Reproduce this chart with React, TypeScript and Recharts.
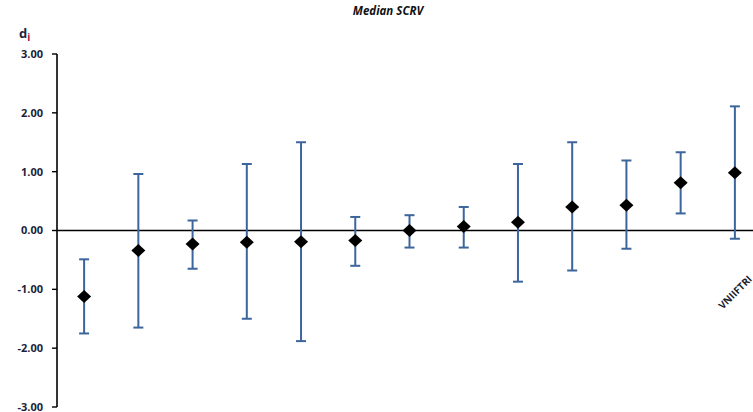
import { ComposedChart, ErrorBar, Line, ReferenceLine, XAxis, YAxis } from "recharts";

const categories = ["", "", "", "", "", "", "", "", "", "", "", "", "VNIIFTRI"];
const medians = [-1.12, -0.34, -0.23, -0.2, -0.19, -0.17, 0.0, 0.07, 0.14, 0.4, 0.43, 0.81, 0.98];
const lows = [-1.75, -1.65, -0.65, -1.5, -1.88, -0.6, -0.29, -0.29, -0.87, -0.68, -0.31, 0.29, -0.14];
const highs = [-0.49, 0.96, 0.17, 1.13, 1.5, 0.23, 0.26, 0.4, 1.13, 1.5, 1.19, 1.33, 2.11];
const yTicks = [-3, -2, -1, 0, 1, 2, 3];

const data = medians.map((v, i) => ({
  id: i,
  value: v,
  err: [v - lows[i], highs[i] - v],
}));

const FONT = "'Open Sans', 'Liberation Sans', sans-serif";

function Diamond(props: any) {
  const { cx, cy } = props;
  if (cx == null || cy == null) return <g />;
  return <path d={`M${cx},${cy - 6.5} L${cx + 7},${cy} L${cx},${cy + 6.5} L${cx - 7},${cy} Z`} fill="#000" />;
}

function CatTick(props: any) {
  const { x, y, payload } = props;
  const label = categories[payload.value];
  if (!label) return <g />;
  const ty = y - 123;
  return (
    <text
      x={x}
      y={ty}
      textAnchor="middle"
      dominantBaseline="central"
      transform={`rotate(-45 ${x} ${ty})`}
      fontSize={10}
      fontWeight={700}
      fontFamily={FONT}
      fill="#1c1c2c"
    >
      {label}
    </text>
  );
}

export default function App() {
  return (
    <div style={{ position: "absolute", left: 0, top: 0, width: 753, height: 412, overflow: "hidden", background: "#fff" }}>
      <div
        style={{
          position: "absolute",
          left: 0,
          width: 776,
          top: 3,
          textAlign: "center",
          fontFamily: FONT,
          fontSize: 11.5,
          fontWeight: 700,
          fontStyle: "italic",
          color: "#111",
        }}
      >
        Median SCRV
      </div>
      <div style={{ position: "absolute", left: 19, top: 24, fontFamily: FONT, fontWeight: 700, fontSize: 13, color: "#1c2340" }}>
        d<sub style={{ fontSize: 10, color: "#b3123c", verticalAlign: "-3px" }}>i</sub>
      </div>
      <ComposedChart width={770} height={412} data={data} margin={{ top: 54, right: 8, bottom: 4, left: 0 }}>
        <XAxis
          dataKey="id"
          type="category"
          scale="band"
          height={1}
          axisLine={false}
          tickLine={false}
          tick={<CatTick />}
          interval={0}
        />
        <YAxis
          type="number"
          domain={[-3, 3]}
          ticks={yTicks}
          interval={0}
          width={57}
          tickFormatter={(v: number) => v.toFixed(2)}
          axisLine={{ stroke: "#000", strokeWidth: 1.6 }}
          tickLine={{ stroke: "#000", strokeWidth: 1.4 }}
          tickSize={5}
          tickMargin={9}
          tick={{ fontSize: 11, fontWeight: 700, fill: "#1c1f3a", fontFamily: FONT }}
        />
        <ReferenceLine y={0} stroke="#000" strokeWidth={1.6} />
        <Line dataKey="value" stroke="none" dot={<Diamond />} activeDot={false} isAnimationActive={false}>
          <ErrorBar dataKey="err" direction="y" width={5} stroke="#3c659c" strokeWidth={2} />
        </Line>
      </ComposedChart>
    </div>
  );
}
